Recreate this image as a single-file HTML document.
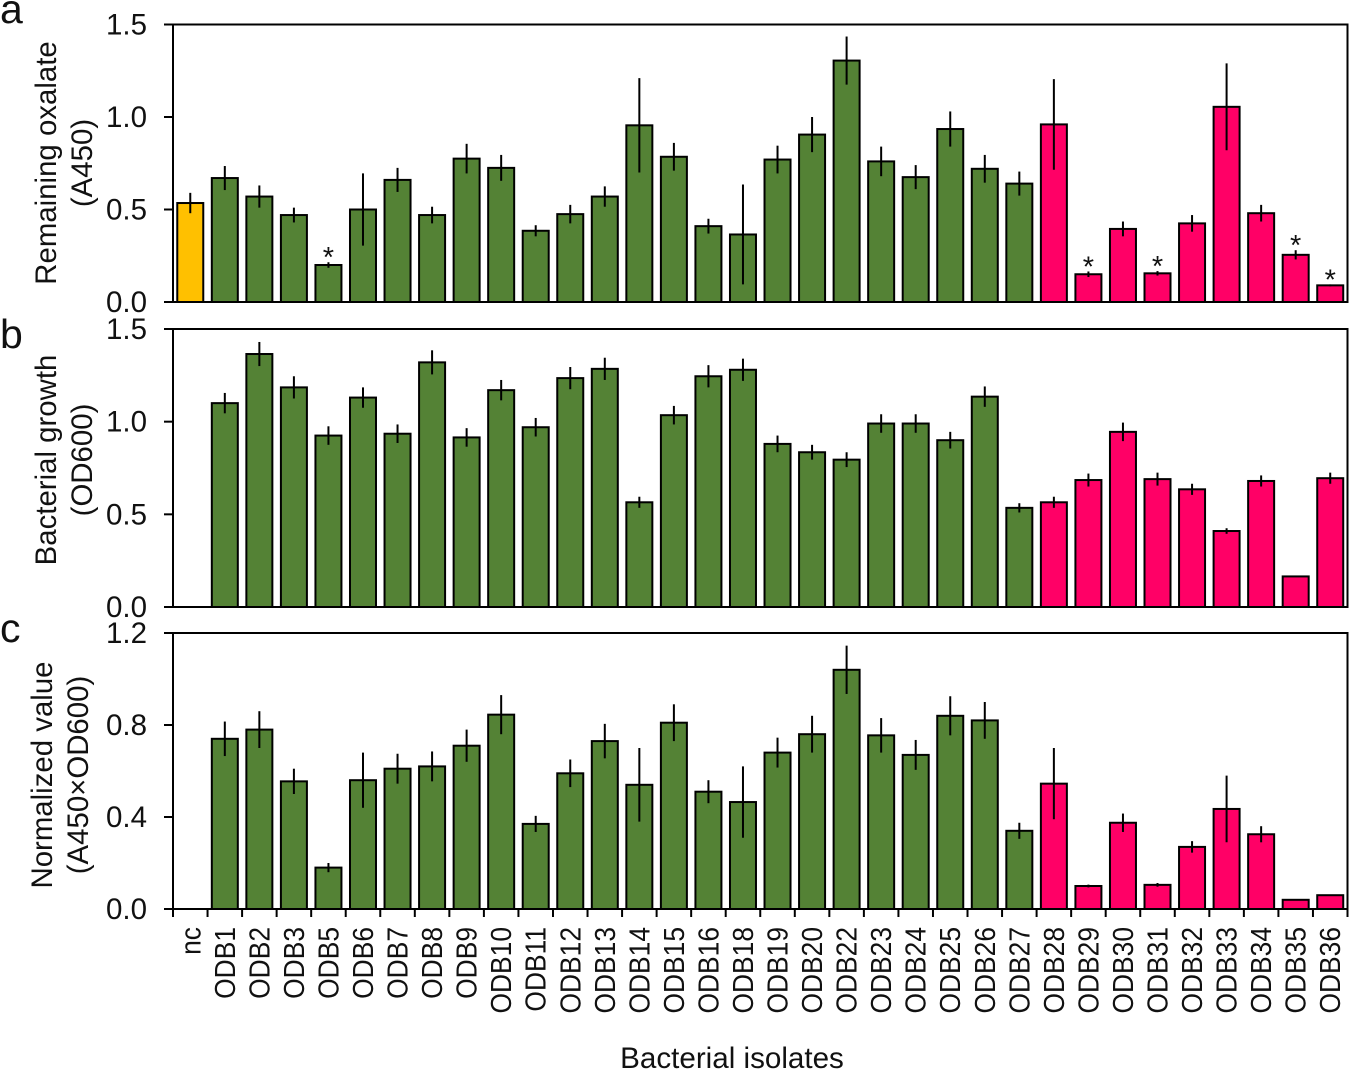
<!DOCTYPE html>
<html>
<head>
<meta charset="utf-8">
<style>
html,body{margin:0;padding:0;background:#fff;width:1349px;height:1070px;overflow:hidden}
svg{display:block}
text{font-family:"Liberation Sans",sans-serif;fill:#111}
</style>
</head>
<body>
<svg id="chart" xmlns="http://www.w3.org/2000/svg" width="1349" height="1070" viewBox="0 0 1349 1070">
<text x="0" y="23" font-size="41">a</text>
<text x="0" y="348" font-size="41">b</text>
<text x="0" y="642" font-size="41">c</text>
<text text-anchor="middle" font-size="29.4" transform="translate(56 163) rotate(-90)">Remaining oxalate</text>
<text text-anchor="middle" font-size="29.4" transform="translate(92 163) rotate(-90)">(A450)</text>
<text text-anchor="middle" font-size="29.4" transform="translate(56 460) rotate(-90)">Bacterial growth</text>
<text text-anchor="middle" font-size="29.4" transform="translate(92 460) rotate(-90)">(OD600)</text>
<text text-anchor="middle" font-size="29.4" transform="translate(52 775) rotate(-90)">Normalized value</text>
<text text-anchor="middle" font-size="29.4" transform="translate(88 775) rotate(-90)">(A450×OD600)</text>
<text x="732" y="1068" text-anchor="middle" font-size="29.6">Bacterial isolates</text>
</svg>
<script>
var categories = ["nc","ODB1","ODB2","ODB3","ODB5","ODB6","ODB7","ODB8","ODB9","ODB10","ODB11","ODB12","ODB13","ODB14","ODB15","ODB16","ODB18","ODB19","ODB20","ODB22","ODB23","ODB24","ODB25","ODB26","ODB27","ODB28","ODB29","ODB30","ODB31","ODB32","ODB33","ODB34","ODB35","ODB36"];
var groups = ["y","g","g","g","g","g","g","g","g","g","g","g","g","g","g","g","g","g","g","g","g","g","g","g","g","p","p","p","p","p","p","p","p","p"];

var oxalateValues = [0.535,0.67,0.57,0.47,0.2,0.5,0.66,0.47,0.775,0.725,0.385,0.475,0.57,0.955,0.785,0.41,0.365,0.77,0.905,1.305,0.76,0.675,0.935,0.72,0.64,0.96,0.15,0.395,0.155,0.425,1.055,0.48,0.255,0.09];
var oxalateErrors = [0.055,0.065,0.06,0.04,0.015,0.195,0.065,0.045,0.08,0.07,0.03,0.05,0.055,0.255,0.075,0.04,0.27,0.075,0.095,0.13,0.08,0.065,0.095,0.075,0.065,0.245,0.015,0.04,0.012,0.045,0.235,0.045,0.025,0.005];
var oxalateStars = ["ODB5","ODB29","ODB31","ODB35","ODB36"];
var oxalateTicks = ["0.0","0.5","1.0","1.5"];

var growthValues = [null,1.1,1.365,1.185,0.925,1.13,0.935,1.32,0.915,1.17,0.97,1.235,1.285,0.565,1.035,1.245,1.28,0.88,0.835,0.795,0.99,0.99,0.9,1.135,0.535,0.565,0.685,0.945,0.69,0.635,0.41,0.68,0.165,0.695];
var growthErrors = [null,0.055,0.065,0.06,0.05,0.055,0.05,0.065,0.05,0.055,0.05,0.06,0.06,0.03,0.05,0.06,0.06,0.045,0.04,0.04,0.05,0.05,0.045,0.055,0.025,0.03,0.035,0.05,0.035,0.03,0.015,0.03,0.002,0.03];
var growthTicks = ["0.0","0.5","1.0","1.5"];

var normalizedValues = [null,0.74,0.78,0.555,0.18,0.56,0.61,0.62,0.71,0.845,0.37,0.59,0.73,0.54,0.81,0.51,0.465,0.68,0.76,1.04,0.755,0.67,0.84,0.82,0.34,0.545,0.1,0.375,0.105,0.27,0.435,0.325,0.04,0.06];
var normalizedErrors = [null,0.075,0.08,0.055,0.02,0.12,0.065,0.065,0.07,0.085,0.035,0.06,0.075,0.16,0.08,0.05,0.155,0.065,0.08,0.105,0.075,0.065,0.085,0.08,0.035,0.155,0.006,0.04,0.008,0.025,0.145,0.035,0.002,0.003];
var normalizedTicks = ["0.0","0.4","0.8","1.2"];

var svg = document.getElementById('chart');
var NS = 'http://www.w3.org/2000/svg';
var colors = {y:'#ffc000', g:'#548235', p:'#ff0066'};
var plotLeft = 173, plotRight = 1347.5;
var step = (plotRight - plotLeft) / categories.length;
var barWidth = 26;

function xCenter(i){ return plotLeft + step * (i + 0.5); }

function drawLine(x1, y1, x2, y2, name, w){
  var l = document.createElementNS(NS, 'line');
  l.setAttribute('x1', x1);
  l.setAttribute('y1', y1);
  l.setAttribute('x2', x2);
  l.setAttribute('y2', y2);
  l.setAttribute('stroke', '#000');
  l.setAttribute('stroke-width', w || 2);
  
  
  svg.appendChild(l);
  return l;
}

function drawPanel(key, top, bottom, maxValue, values, errors, ticks, stars){
  var yScale = function(v){ return bottom - (v / maxValue) * (bottom - top); };

  drawLine(164, top, plotRight + 1, top, key + '-top-border');
  drawLine(plotRight, top, plotRight, bottom, key + '-right-border');
  drawLine(plotLeft, top, plotLeft, bottom, key + '-y-axis');

  ticks.forEach(function(t){
    var y = yScale(parseFloat(t));
    drawLine(164, y, plotLeft, y, key + '-y-tick');
    var tx = document.createElementNS(NS, 'text');
    tx.setAttribute('x', 147);
    tx.setAttribute('y', y + 10);
    tx.setAttribute('text-anchor', 'end');
    tx.setAttribute('font-size', '29.5');
    
    
    tx.textContent = t;
    svg.appendChild(tx);
  });

  values.forEach(function(v, i){
    if (v === null) return;
    var x = xCenter(i), y = yScale(v);
    var r = document.createElementNS(NS, 'rect');
    r.setAttribute('x', x - barWidth / 2);
    r.setAttribute('y', y);
    r.setAttribute('width', barWidth);
    r.setAttribute('height', bottom - y);
    r.setAttribute('fill', colors[groups[i]]);
    r.setAttribute('stroke', '#000');
    r.setAttribute('stroke-width', 2);
    
    
    svg.appendChild(r);
    drawLine(x, yScale(v + errors[i]), x, Math.min(bottom, yScale(v - errors[i])), key + '-error-bar-' + categories[i].toLowerCase());
    if (stars.indexOf(categories[i]) >= 0) {
      var s = document.createElementNS(NS, 'text');
      s.setAttribute('x', x);
      s.setAttribute('y', yScale(v + errors[i]) + 5);
      s.setAttribute('text-anchor', 'middle');
      s.setAttribute('font-size', '29');
      
      
      s.textContent = '*';
      svg.appendChild(s);
    }
  });

  drawLine(164, bottom, plotRight + 1, bottom, key + '-x-axis');
}

drawPanel('panel-a', 24.5, 302, 1.5, oxalateValues, oxalateErrors, oxalateTicks, oxalateStars);
drawPanel('panel-b', 329, 607, 1.5, growthValues, growthErrors, growthTicks, []);
drawPanel('panel-c', 633, 909, 1.2, normalizedValues, normalizedErrors, normalizedTicks, []);

for (var k = 0; k <= categories.length; k++) {
  var tickX = plotLeft + step * k;
  drawLine(tickX, 909, tickX, 917, 'x-axis-tick');
}

categories.forEach(function(c, i){
  var label = document.createElementNS(NS, 'text');
  label.setAttribute('text-anchor', 'end');
  label.setAttribute('font-size', '29');
  label.setAttribute('transform', 'translate(' + (xCenter(i) + 10) + ' 927) rotate(-90) scale(0.91 1)');
  
  
  label.textContent = c;
  svg.appendChild(label);
});
</script>
</body>
</html>
